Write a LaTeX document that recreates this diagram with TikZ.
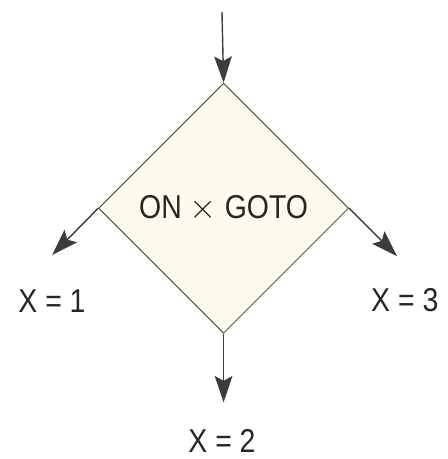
\documentclass[tikz,border=0pt]{standalone}
\usepackage{fontspec}
\usepackage{xcolor}
\usepackage{tikz}
\usetikzlibrary{arrows.meta,positioning,calc,shapes.geometric}
\newfontfamily\flowfont[FakeStretch=0.86]{Liberation Sans}
\definecolor{dcream}{RGB}{253,251,237}
\definecolor{lgray}{RGB}{60,60,60}

\begin{document}
\begin{tikzpicture}[
  font=\flowfont\fontsize{23.5}{26}\selectfont,
  >={Stealth[length=0.66cm, width=0.44cm, inset=0.12cm]},
  every node/.style={align=center},
  decnd/.style  = {draw=lgray, line width=0.6pt, fill=dcream, diamond, aspect=1,
                   inner sep=0pt, minimum width=6.25cm, minimum height=6.25cm, text=black!85},
  flow/.style   = {->, draw=lgray, line width=1pt},
  lab/.style    = {text=black!85, inner sep=1pt}
]
\useasboundingbox (0,0) rectangle (11.2,11.475);

\node[decnd] (ongoto) at (5.59, 6.27) {ON $\times$ GOTO};

\coordinate (entry) at (5.55, 11.17);
\coordinate (outOne) at ($(ongoto.west)+(-1.15,-1.17)$);
\coordinate (outTwo) at ($(ongoto.south)+(0,-1.72)$);
\coordinate (outThree) at ($(ongoto.east)+(1.2,-1.2)$);

\draw[flow] (entry) -- (ongoto.north);
\draw[flow] (ongoto.west) -- (outOne);
\draw[flow] (ongoto.south) -- (outTwo);
\draw[flow] (ongoto.east) -- (outThree);

\node[lab] (xone) at (1.3, 3.95) {X = 1};
\node[lab] (xtwo) at (5.55, 0.45) {X = 2};
\node[lab] (xthree) at (10.12, 3.98) {X = 3};
\end{tikzpicture}
\end{document}
